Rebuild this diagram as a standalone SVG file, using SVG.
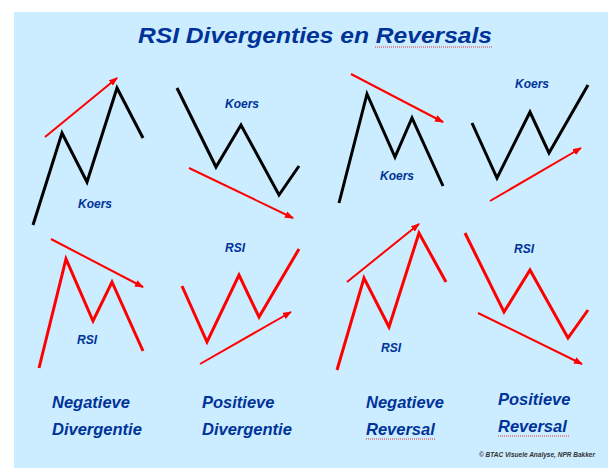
<svg xmlns="http://www.w3.org/2000/svg" width="614" height="468" viewBox="0 0 614 468">
<defs>
<style>
.bg{fill:#CCECFF}
.t{font-family:"Liberation Sans",Arial,sans-serif;font-weight:bold;font-style:italic;fill:#003399}
.title{font-size:22px}
.lbl{font-size:12px}
.cap{font-size:16.5px}
.copy{font-size:6.5px;fill:#333333}
.price{fill:none;stroke:#000;stroke-width:3;stroke-linejoin:miter;stroke-linecap:butt}
.rsi{fill:none;stroke:#FF0000;stroke-width:3;stroke-linejoin:miter;stroke-linecap:butt}
.arr{fill:none;stroke:#FF0000;stroke-width:2;marker-end:url(#ah)}
.spell{fill:none;stroke:#E03030;stroke-width:1;stroke-dasharray:1 1}
</style>
<marker id="ah" markerUnits="userSpaceOnUse" markerWidth="9" markerHeight="7" viewBox="0 0 9 7" refX="8" refY="3.5" orient="auto">
<path d="M0,0 L9,3.5 L0,7 z" fill="#FF0000"/>
</marker>
</defs>
<rect class="bg" x="14" y="12" width="594" height="456"/>
<text class="t title" x="315" y="43" text-anchor="middle" textLength="354" lengthAdjust="spacingAndGlyphs">RSI Divergenties en Reversals</text>
<line class="spell" x1="375" y1="47" x2="492" y2="47"/>

<g id="chart1">
<polyline class="price" points="33,225 62,133 87,182 117,88 143,138"/>
<text class="t lbl" x="95" y="208" text-anchor="middle">Koers</text>
</g>
<g id="chart2">
<polyline class="price" points="177,88 216,167 241,125 279,195 299,166"/>
<text class="t lbl" x="242" y="108" text-anchor="middle">Koers</text>
</g>
<g id="chart3">
<polyline class="price" points="339,203 367,94 395,157 412,118 443,186"/>
<text class="t lbl" x="397" y="180" text-anchor="middle">Koers</text>
</g>
<g id="chart4">
<polyline class="price" points="472,123 497,178 530,112 549,153 588,85"/>
<text class="t lbl" x="532" y="88" text-anchor="middle">Koers</text>
</g>
<g id="chart5">
<polyline class="rsi" points="39,368 66,259 93,321 112,282 143,351"/>
<text class="t lbl" x="87" y="344" text-anchor="middle">RSI</text>
</g>
<g id="chart6">
<polyline class="rsi" points="182,286 207,342 239,275 259,317 299,249"/>
<text class="t lbl" x="235" y="252" text-anchor="middle">RSI</text>
</g>
<g id="chart7">
<polyline class="rsi" points="337,370 364,278 389,327 419,233 446,282"/>
<text class="t lbl" x="391" y="352" text-anchor="middle">RSI</text>
</g>
<g id="chart8">
<polyline class="rsi" points="465,233 504,312 530,270 568,338 588,310"/>
<text class="t lbl" x="524" y="253" text-anchor="middle">RSI</text>
</g>

<g id="connectors">
<line class="arr" x1="45" y1="137" x2="117" y2="78"/>
<line class="arr" x1="189" y1="168" x2="293" y2="218"/>
<line class="arr" x1="351" y1="74" x2="443" y2="122"/>
<line class="arr" x1="490" y1="201" x2="581" y2="148"/>
<line class="arr" x1="51" y1="239" x2="143" y2="287"/>
<line class="arr" x1="200" y1="364" x2="291" y2="312"/>
<line class="arr" x1="347" y1="282" x2="419" y2="224"/>
<line class="arr" x1="478" y1="313" x2="582" y2="364"/>
</g>

<g id="captions">
<text class="t cap" x="52" y="408">Negatieve</text>
<text class="t cap" x="52" y="435">Divergentie</text>
<text class="t cap" x="202" y="408">Positieve</text>
<text class="t cap" x="202" y="435">Divergentie</text>
<text class="t cap" x="366" y="408">Negatieve</text>
<text class="t cap" x="366" y="435">Reversal</text>
<line class="spell" x1="366" y1="439" x2="436" y2="439"/>
<text class="t cap" x="498" y="405">Positieve</text>
<text class="t cap" x="498" y="432">Reversal</text>
<line class="spell" x1="498" y1="436" x2="569" y2="436"/>
</g>
<text class="t copy" x="595" y="457" text-anchor="end" textLength="116" lengthAdjust="spacingAndGlyphs">© BTAC Visuele Analyse, NPR Bakker</text>
</svg>
